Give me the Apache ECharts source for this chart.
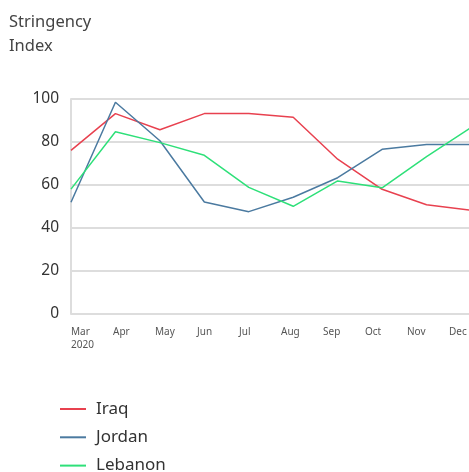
<!DOCTYPE html>
<html><head><meta charset="utf-8">
<script src="https://cdn.jsdelivr.net/npm/echarts@6/dist/echarts.min.js"></script>
<style>html,body{margin:0;padding:0;background:#fff}#c{width:469px;height:472px}</style>
</head><body><div id="c"></div>
<script>
const categories = ['Mar','Apr','May','Jun','Jul','Aug','Sep','Oct','Nov','Dec'];
const tickLabels = ['Mar\n2020','Apr','May','Jun','Jul','Aug','Sep','Oct','Nov','Dec'];
const iraq = [76.1, 93.2, 85.7, 93.2, 93.2, 91.5, 72.0, 58.0, 50.8, 48.2];
const jordan = [52.0, 98.5, 80.6, 52.1, 47.6, 54.3, 63.4, 76.6, 78.8, 78.8];
const lebanon = [58.1, 84.8, 79.7, 73.8, 58.9, 50.1, 61.9, 58.7, 73.2, 86.7];
const yTicks = {min: 0, max: 100, interval: 20};
const FONT = 'Noto Sans';
const colors = {Iraq: '#e8414f', Jordan: '#4b7aa0', Lebanon: '#2ee079'};
const chart = echarts.init(document.getElementById('c'));
const mk = (name, data) => ({
  name, type: 'line', data, symbol: 'none', smooth: false, xAxisIndex: 0, yAxisIndex: 0,
  lineStyle: {width: 1.5, color: colors[name]}, itemStyle: {color: colors[name]}
});
chart.setOption({
  animation: false,
  textStyle: {fontFamily: FONT},
  title: {text: 'Stringency\nIndex', left: 9, top: 10, padding: 0,
    textStyle: {fontFamily: FONT, fontSize: 16.5, fontWeight: 'normal', color: '#444', lineHeight: 24}},
  grid: [
    {left: 71, right: -2, top: 99, bottom: 158, outerBoundsMode: 'none'},
    {left: 71, width: 378, top: 99, bottom: 158, outerBoundsMode: 'none'}
  ],
  xAxis: [
    {type: 'category', gridIndex: 0, data: categories, boundaryGap: false,
      axisLine: {show: false}, axisTick: {show: false}, axisLabel: {show: false}},
    {type: 'category', gridIndex: 1, data: tickLabels, boundaryGap: false,
      axisLine: {show: false}, axisTick: {show: false}, splitLine: {show: false},
      axisLabel: {fontFamily: FONT, fontSize: 10, color: '#555', margin: 12, lineHeight: 13, align: 'left',
        verticalAlign: 'top', interval: 0}}
  ],
  yAxis: [
    {type: 'value', gridIndex: 0, min: yTicks.min, max: yTicks.max, interval: yTicks.interval,
      axisLine: {show: true, lineStyle: {color: '#ddd', width: 2}}, axisTick: {show: false},
      axisLabel: {fontFamily: FONT, fontSize: 15.5, color: '#333', margin: 12},
      splitLine: {lineStyle: {color: '#ddd', width: 2}}},
    {type: 'value', gridIndex: 1, min: yTicks.min, max: yTicks.max, show: false,
      splitLine: {show: false}}
  ],
  legend: {orient: 'vertical', left: 60, top: 400, height: 120, padding: 0, itemGap: 10.3,
    itemWidth: 26, itemHeight: 2, icon: 'rect',
    textStyle: {fontFamily: FONT, fontSize: 17, color: '#333', lineHeight: 18, padding: [0, 0, 0, 5]},
    data: ['Iraq','Jordan','Lebanon']},
  series: [mk('Iraq', iraq), mk('Jordan', jordan), mk('Lebanon', lebanon)]
});
</script></body></html>
